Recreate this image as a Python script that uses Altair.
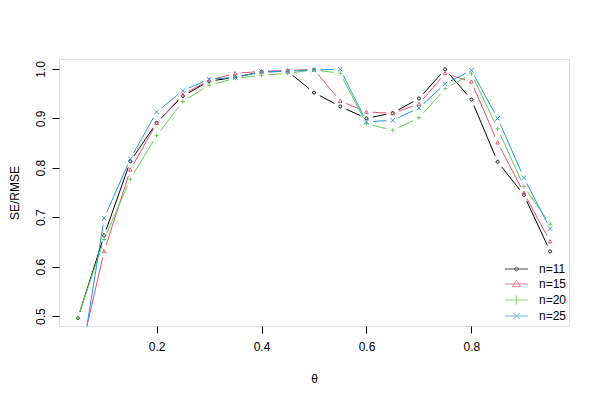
import altair as alt
import pandas as pd

theta = [0.05, 0.10, 0.15, 0.20, 0.25, 0.30, 0.35, 0.40, 0.45, 0.50,
         0.55, 0.60, 0.65, 0.70, 0.75, 0.80, 0.85, 0.90, 0.95]
n11 = [0.496, 0.663, 0.813, 0.891, 0.945, 0.975, 0.983, 0.994, 0.995, 0.952,
       0.924, 0.900, 0.911, 0.940, 0.999, 0.938, 0.812, 0.745, 0.631]
n15 = [0.400, 0.631, 0.796, 0.890, 0.948, 0.977, 0.991, 0.995, 0.997, 0.999,
       0.935, 0.913, 0.910, 0.929, 0.991, 0.974, 0.851, 0.749, 0.651]
n20 = [0.497, 0.655, 0.777, 0.865, 0.934, 0.967, 0.981, 0.987, 0.991, 0.998,
       0.991, 0.889, 0.876, 0.901, 0.960, 0.990, 0.879, 0.762, 0.686]
n25 = [0.365, 0.698, 0.818, 0.913, 0.956, 0.979, 0.983, 0.994, 0.995, 0.998,
       0.999, 0.893, 0.896, 0.921, 0.970, 0.997, 0.900, 0.780, 0.677]

series_names = ["n=11", "n=15", "n=20", "n=25"]
colors = ["#000000", "#DF536B", "#61D04F", "#2297E6"]
x_ticks = [0.2, 0.4, 0.6, 0.8]
y_ticks = [0.5, 0.6, 0.7, 0.8, 0.9, 1.0]

rows = []
for name, vals in zip(series_names, [n11, n15, n20, n25]):
    for t, v in zip(theta, vals):
        rows.append({"theta": t, "value": v, "series": name})
df = pd.DataFrame(rows)

FONT = "Liberation Sans"
W, H = 510, 267
X_DOM = [0.014, 0.986]
Y_DOM = [0.48, 1.02]
PX_X = W / (X_DOM[1] - X_DOM[0])
PX_Y = H / (Y_DOM[1] - Y_DOM[0])
GAP = 6.5  # px gap between line segment and point (R type="b")

# plot marker shapes (R pch 1, 2, 3, 4)
plot_shapes = [
    "M1,0A1,1,0,1,1,-1,0A1,1,0,1,1,1,0",
    "M0,-1L1,0.8L-1,0.8Z",
    "M-1,0H1M0,-1V1",
    "M-1,-1L1,1M-1,1L1,-1",
]
plot_sizes = [9, 20, 25, 14]

# legend symbols: line with marker
legend_shapes = [
    "M-2.9,0H2.9M0.45,0A0.45,0.45,0,1,1,-0.45,0A0.45,0.45,0,1,1,0.45,0",
    "M-2.9,0H2.9M0,-0.95L1.0,0.65L-1.0,0.65Z",
    "M-2.9,0H2.9M0,-1.2V1.2",
    "M-2.9,0H2.9M-0.75,-0.75L0.75,0.75M-0.75,0.75L0.75,-0.75",
]

axis_common = dict(grid=False, domain=False, tickColor="black", tickSize=7,
                   tickWidth=1, labelFont=FONT, labelFontSize=12,
                   labelColor="black", titleFont=FONT, titleFontSize=12,
                   titleFontWeight="normal", titleColor="black")

color_scale = alt.Scale(domain=series_names, range=colors)


def make_x(field):
    return alt.X(
        f"{field}:Q",
        scale=alt.Scale(domain=X_DOM, nice=False, zero=False),
        axis=alt.Axis(values=x_ticks, format=".1f", title="θ",
                      titleX=255, titleY=52, titleBaseline="middle",
                      titleAlign="center", labelPadding=8, **axis_common),
    )


def make_y(field):
    return alt.Y(
        f"{field}:Q",
        scale=alt.Scale(domain=Y_DOM, nice=False, zero=False),
        axis=alt.Axis(values=y_ticks, format=".1f", title="SE/RMSE",
                      titleAngle=270, titleX=-41, titleY=133.5,
                      titleAlign="center", titleBaseline="alphabetic",
                      labelAngle=270, labelAlign="center",
                      labelBaseline="alphabetic", labelPadding=8,
                      **axis_common),
    )


# line segments with gaps at the points (R type = "b")
segments = alt.Chart(df).transform_window(
    x_next="lead(theta)", y_next="lead(value)",
    groupby=["series"], sort=[alt.SortField("theta")],
).transform_filter(
    "datum.x_next != null"
).transform_calculate(
    dxp=f"(datum.x_next - datum.theta) * {PX_X}",
    dyp=f"(datum.y_next - datum.value) * {PX_Y}",
).transform_calculate(
    seglen="sqrt(datum.dxp * datum.dxp + datum.dyp * datum.dyp)",
).transform_filter(
    f"datum.seglen > {2 * GAP}"
).transform_calculate(
    g=f"{GAP} / datum.seglen",
).transform_calculate(
    xs="datum.theta + (datum.x_next - datum.theta) * datum.g",
    ys="datum.value + (datum.y_next - datum.value) * datum.g",
    xe="datum.x_next - (datum.x_next - datum.theta) * datum.g",
    ye="datum.y_next - (datum.y_next - datum.value) * datum.g",
).mark_rule(strokeWidth=1, clip=True).encode(
    x=make_x("xs"), y=make_y("ys"), x2="xe:Q", y2="ye:Q",
    color=alt.Color("series:N", scale=color_scale, legend=None),
)

points = alt.Chart(df).mark_point(filled=False, strokeWidth=1, clip=True,
                                  opacity=1).encode(
    x=make_x("theta"), y=make_y("value"),
    color=alt.Color("series:N", scale=color_scale, legend=None),
    shape=alt.Shape("series:N",
                    scale=alt.Scale(domain=series_names, range=plot_shapes),
                    legend=None),
    size=alt.Size("series:N",
                  scale=alt.Scale(domain=series_names, range=plot_sizes),
                  legend=None),
)

leg_props = dict(orient="none", legendX=451.5, legendY=204, title=None,
                 symbolSize=64, labelOffset=16.5, rowPadding=3,
                 labelFont=FONT, labelFontSize=12, labelColor="black",
                 padding=0, symbolStrokeWidth=1)

legend_layer = alt.Chart(df).transform_filter("false").mark_point(
    filled=False, strokeWidth=1).encode(
    x=make_x("theta"), y=make_y("value"),
    color=alt.Color("series:N", scale=color_scale,
                    legend=alt.Legend(**leg_props)),
    shape=alt.Shape("series:N",
                    scale=alt.Scale(domain=series_names, range=legend_shapes),
                    legend=alt.Legend(**leg_props)),
)

chart = alt.layer(segments, points, legend_layer).resolve_scale(
    shape="independent", size="independent"
).resolve_legend(
    color="independent", shape="independent"
).properties(
    width=W, height=H,
    autosize=alt.AutoSizeParams(type="none"),
    padding={"left": 51, "top": 51, "right": 23, "bottom": 66},
).configure_view(
    stroke="black", strokeWidth=1
).configure_axis(
    grid=False, domain=False
).configure(background="white")

chart.save("out.html", embed_options={"renderer": "svg", "actions": False})
